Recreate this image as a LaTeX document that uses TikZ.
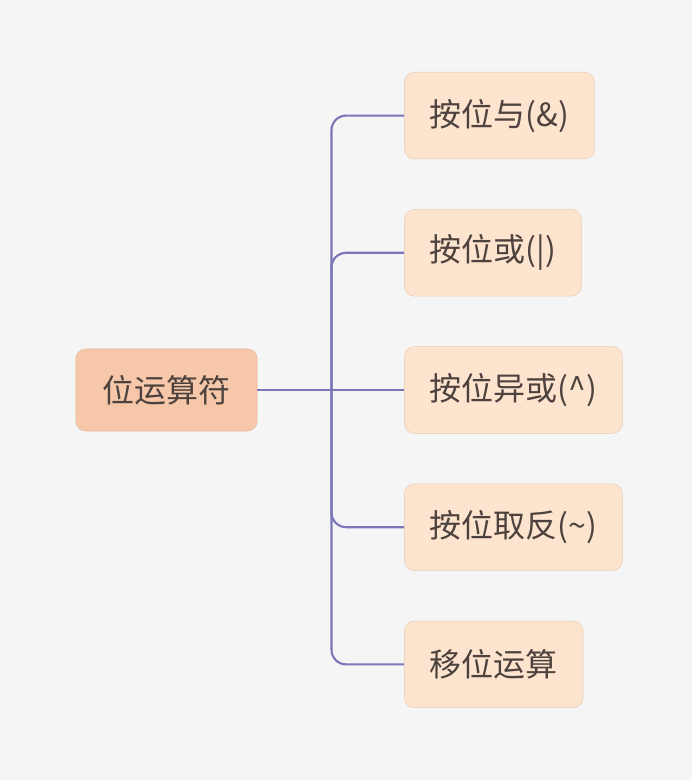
\documentclass[tikz,border=0pt]{standalone}
\usepackage{fontspec}
\newfontfamily\cjk{Noto Sans CJK SC}
\usepackage{xcolor}
\usepackage{tikz}
\usetikzlibrary{positioning}
\definecolor{BW_BG}{HTML}{F5F5F5}
\definecolor{BW_ROOT}{HTML}{F6C7A9}
\definecolor{BW_ROOTLINE}{HTML}{E6B597}
\definecolor{BW_LEAF}{HTML}{FDE4CE}
\definecolor{BW_LEAFLINE}{HTML}{E9CDB6}
\definecolor{BW_LINK}{HTML}{7A76B8}
\definecolor{BW_TEXT}{HTML}{4D423D}
\tikzset{
  root/.style={
    rectangle, rounded corners=7.5pt,
    minimum height=61.5pt, inner xsep=20pt,
    text centered, align=center,
    draw=BW_ROOTLINE, fill=BW_ROOT, text=BW_TEXT,
    font=\cjk\fontsize{24}{28}\selectfont},
  leaf/.style={
    rectangle, rounded corners=7.5pt,
    minimum height=65pt, inner xsep=19pt,
    text centered, align=center,
    draw=BW_LEAFLINE, fill=BW_LEAF, text=BW_TEXT,
    font=\cjk\fontsize{24}{28}\selectfont},
  link/.style={line width=1.6pt, color=BW_LINK, rounded corners=11pt},
}

\begin{document}
\begin{tikzpicture}[node distance=37.5pt and 110pt]

  \fill[BW_BG] (0,0) rectangle (519pt,585pt);
  \useasboundingbox (0,0) rectangle (519pt,585pt);

  \node[root] (ops) at (124.9pt,292.5pt) {位运算符};

  \node[leaf, right=of ops] (bxor) {按位异或(\^{})};

  \node[leaf, above=of bxor.north west, anchor=south west] (bor)
    {按位或(|)};

  \node[leaf, above=of bor.north west, anchor=south west] (band)
    {按位与(\&)};

  \node[leaf, below=of bxor.south west, anchor=north west] (bnot)
    {按位取反(\~{})};

  \node[leaf, below=of bnot.south west, anchor=north west] (shift)
    {移位运算};

  \coordinate (fork) at ([xshift=55.5pt]ops.east);

  \draw[link] (ops.east) -- (bxor.west);
  \draw[link] (fork) |- (band.west);
  \draw[link] (fork) |- (bor.west);
  \draw[link] (fork) |- (bnot.west);
  \draw[link] (fork) |- (shift.west);

\end{tikzpicture}
\end{document}
